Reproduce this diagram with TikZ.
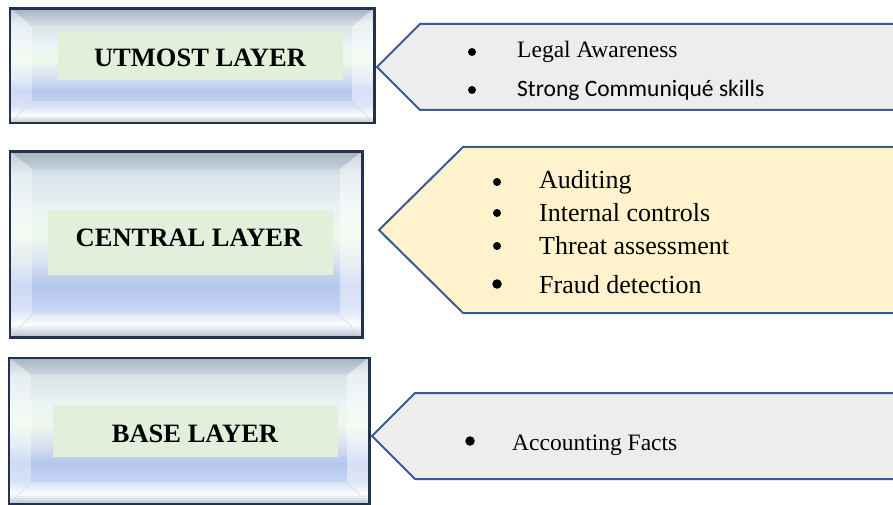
\documentclass[tikz,border=0pt]{standalone}
\usepackage{fontspec}
\setmainfont{Liberation Serif}
\newfontfamily\calibfont{Carlito}
\usetikzlibrary{calc}
\definecolor{navy}{HTML}{22324F}
\definecolor{edgeblue}{HTML}{3A5A96}
\definecolor{greyfill}{HTML}{EDEDED}
\definecolor{yellowfill}{HTML}{FFF2CC}
\definecolor{labelfill}{HTML}{E2EFDA}
\definecolor{bv0}{HTML}{9AA6BA}
\definecolor{bv1}{HTML}{FAFCFF}
\definecolor{bv2}{HTML}{C6D5F2}
\definecolor{bv3}{HTML}{B3C7EC}
\definecolor{bv4}{HTML}{D6E2F1}
\definecolor{bv5}{HTML}{F0F8EC}
\definecolor{bv6}{HTML}{E9F3F4}
\definecolor{bv7}{HTML}{D9E3E9}
\definecolor{bv8}{HTML}{A6B4C3}
\pgfdeclareverticalshading{bevelface}{100bp}{color(0bp)=(bv0); color(25bp)=(bv0); color(28.5bp)=(bv1); color(32.5bp)=(bv2); color(39bp)=(bv3); color(45bp)=(bv4); color(52.5bp)=(bv5); color(60bp)=(bv6); color(69bp)=(bv7); color(75bp)=(bv8); color(100bp)=(bv8)}
\tikzset{
 boxface/.style={rectangle, inner sep=0pt, shading=bevelface},
 boxedge/.style={draw=navy, line width=2.6pt},
 bevelline/.style={draw=white!70!gray, line width=0.6pt},
 labelbox/.style={rectangle, inner sep=0pt, fill=labelfill, minimum width=285pt},
 labeltext/.style={font=\fontsize{26.5}{30}\selectfont\bfseries, anchor=base, inner sep=0pt},
 tag/.style={draw=edgeblue, line width=2pt, line join=miter},
 itemtext/.style={anchor=base west, inner sep=0pt, font=\fontsize{23.5}{28}\selectfont},
 bigitem/.style={anchor=base west, inner sep=0pt, font=\fontsize{26}{30}\selectfont},
 dot/.style={circle, fill=black, inner sep=0pt, minimum size=8pt},
 bigdot/.style={circle, fill=black, inner sep=0pt, minimum size=9.5pt},
}
\newcommand\bevelize[1]{%
 \fill[bv8, opacity=.2] (#1.north west) -- (#1.north east) -- ($(#1.north east)+(-22,17)$) -- ($(#1.north west)+(22,17)$) -- cycle;
 \fill[white, opacity=.35] (#1.north west) -- ($(#1.north west)+(22,17)$) -- ($(#1.south west)+(22,-22)$) -- (#1.south west) -- cycle;
 \fill[white, opacity=.45] (#1.north east) -- ($(#1.north east)+(-22,17)$) -- ($(#1.south east)+(-22,-22)$) -- (#1.south east) -- cycle;
 \fill[white, opacity=.3] (#1.south west) -- ($(#1.south west)+(22,-22)$) -- ($(#1.south east)+(-22,-22)$) -- (#1.south east) -- cycle;
 \draw[bevelline] (#1.north west) -- ($(#1.north west)+(22,17)$);
 \draw[bevelline] (#1.north east) -- ($(#1.north east)+(-22,17)$);
 \draw[bevelline] (#1.south west) -- ($(#1.south west)+(22,-22)$);
 \draw[bevelline] (#1.south east) -- ($(#1.south east)+(-22,-22)$);
 \draw[boxedge] (#1.north west) rectangle (#1.south east);
}
\begin{document}
\begin{tikzpicture}[x=1pt, y=-1pt]
\useasboundingbox (0,0) rectangle (893,505);
\clip (0,0) rectangle (893,505);
\fill[white] (0,0) rectangle (893,505);

% layer boxes
\node[boxface, minimum width=364pt, minimum height=114pt] (box1) at (192,66) {};
\bevelize{box1}
\node[boxface, minimum width=352pt, minimum height=185pt] (box2) at (186,244.5) {};
\bevelize{box2}
\node[boxface, minimum width=360pt, minimum height=146pt] (box3) at (189,431) {};
\bevelize{box3}

\node[labelbox, minimum height=48pt] (lab1) at (200.5,56) {};
\node[labeltext] (t1) at (200,67) {UTMOST LAYER};
\node[labelbox, minimum height=65pt] (lab2) at (190.5,242.5) {};
\node[labeltext] (t2) at (189,246) {CENTRAL LAYER};
\node[labelbox, minimum height=52pt] (lab3) at (195.5,431) {};
\node[labeltext] (t3) at (195,442) {BASE LAYER};

% tag shapes
\coordinate (p1a) at (900,24); \coordinate (p1b) at (420,24); \coordinate (p1c) at (377,67);
\coordinate (p1d) at (420,110); \coordinate (p1e) at (900,110);
\filldraw[tag, fill=greyfill] (p1a) -- (p1b) -- (p1c) -- (p1d) -- (p1e);
\coordinate (p2a) at (900,147); \coordinate (p2b) at (463,147); \coordinate (p2c) at (379,230);
\coordinate (p2d) at (463,313); \coordinate (p2e) at (900,313);
\filldraw[tag, fill=yellowfill] (p2a) -- (p2b) -- (p2c) -- (p2d) -- (p2e);
\coordinate (p3a) at (900,393); \coordinate (p3b) at (415,393); \coordinate (p3c) at (372,436);
\coordinate (p3d) at (415,479); \coordinate (p3e) at (900,479);
\filldraw[tag, fill=greyfill] (p3a) -- (p3b) -- (p3c) -- (p3d) -- (p3e);

% items
\node[dot] (d11) at (472,52) {};
\node[itemtext] (i11) at (517,58) {Legal Awareness};
\node[dot] (d12) at (472,90) {};
\node[itemtext, font=\calibfont\fontsize{23.5}{28}\selectfont] (i12) at (517,97) {Strong Communiqué skills};

\node[dot] (d21) at (497,182) {};
\node[bigitem] (i21) at (539,188) {Auditing};
\node[dot] (d22) at (497,213) {};
\node[bigitem] (i22) at (539,221) {Internal controls};
\node[dot] (d23) at (497,246) {};
\node[bigitem] (i23) at (539,254) {Threat assessment};
\node[bigdot] (d24) at (497,284) {};
\node[bigitem] (i24) at (539,293) {Fraud detection};

\node[bigdot] (d31) at (470,441) {};
\node[itemtext] (i31) at (512,450) {Accounting Facts};
\end{tikzpicture}
\end{document}
